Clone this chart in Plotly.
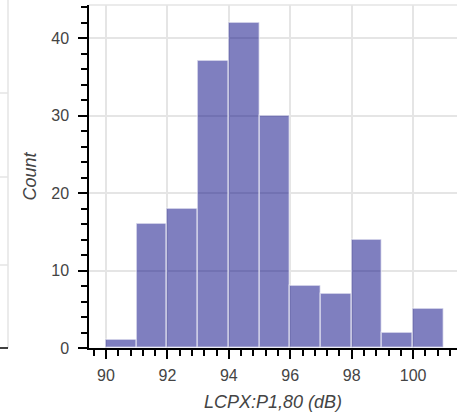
import plotly.graph_objects as go

# Data
bin_edges = [90, 91, 92, 93, 94, 95, 96, 97, 98, 99, 100, 101]
counts = [1, 16, 18, 37, 42, 30, 8, 7, 14, 2, 5]
x_label = "LCPX:P1,80 (dB)"
y_label = "Count"

centers = [(a + b) / 2 for a, b in zip(bin_edges[:-1], bin_edges[1:])]
widths = [b - a for a, b in zip(bin_edges[:-1], bin_edges[1:])]

W, H = 457, 417
FONT = "Liberation Sans, Arial, Helvetica, sans-serif"
GRID = "#e5e5e5"
TXT = "#444444"

fig = go.Figure()
fig.add_trace(go.Bar(
    x=centers, y=counts, width=widths,
    marker=dict(color="rgba(0,0,128,0.5)",
                line=dict(color="rgba(255,255,255,0.5)", width=1.5)),
    hoverinfo="x+y",
))

# Shapes: plot outline top and the fragment of neighbouring panel at the left
def py(p):
    return (348 - p) / 343

shapes = [
    dict(type="line", xref="paper", yref="paper", x0=89 / W, x1=1, y0=1, y1=1,
         line=dict(color=GRID, width=1.5), layer="below"),
]
for p in [93, 177, 265]:
    shapes.append(dict(type="line", xref="paper", yref="paper", x0=0, x1=8 / W,
                       y0=py(p), y1=py(p), line=dict(color=GRID, width=1.5)))
shapes.append(dict(type="line", xref="paper", yref="paper", x0=8 / W, x1=8 / W,
                   y0=0, y1=py(0), line=dict(color=GRID, width=1.5)))
shapes.append(dict(type="line", xref="paper", yref="paper", x0=0, x1=8 / W,
                   y0=0, y1=0, line=dict(color="black", width=1.5)))

fig.update_layout(
    width=W, height=H,
    margin=dict(l=0, r=0, t=5, b=69),
    paper_bgcolor="white", plot_bgcolor="white",
    font=dict(family=FONT, color=TXT, size=16),
    showlegend=False,
    bargap=0,
    shapes=shapes,
    xaxis=dict(
        domain=[89 / W, 1],
        range=[89.446, 101.43],
        tick0=90, dtick=2,
        ticks="outside", ticklen=9, tickwidth=1.5, tickcolor="black",
        minor=dict(tick0=90, dtick=0.4, ticks="outside", ticklen=6, tickwidth=1.5,
                   tickcolor="black", showgrid=False),
        showline=True, linecolor="black", linewidth=1.5,
        showgrid=True, gridcolor=GRID, gridwidth=1.5,
        zeroline=False,
        tickfont=dict(size=16, color=TXT),
        ticklabelstandoff=3,
        title=dict(text=x_label, standoff=12,
                   font=dict(size=18, color=TXT, style="italic")),
        automargin=False,
    ),
    yaxis=dict(
        range=[0, 44.26],
        tick0=0, dtick=10,
        ticks="outside", ticklen=9, tickwidth=1.5, tickcolor="black",
        minor=dict(dtick=2, ticks="outside", ticklen=6, tickwidth=1.5,
                   tickcolor="black", showgrid=False),
        showline=True, linecolor="black", linewidth=1.5,
        showgrid=True, gridcolor=GRID, gridwidth=1.5,
        zeroline=False,
        tickfont=dict(size=16, color=TXT),
        ticklabelstandoff=6,
        title=dict(text=y_label, standoff=10,
                   font=dict(size=18, color=TXT, style="italic")),
        automargin=False,
    ),
)

fig.write_html(
    "out.html",
    config={"displayModeBar": False},
    post_script="document.body.style.margin='0';document.body.style.overflow='hidden';",
)
